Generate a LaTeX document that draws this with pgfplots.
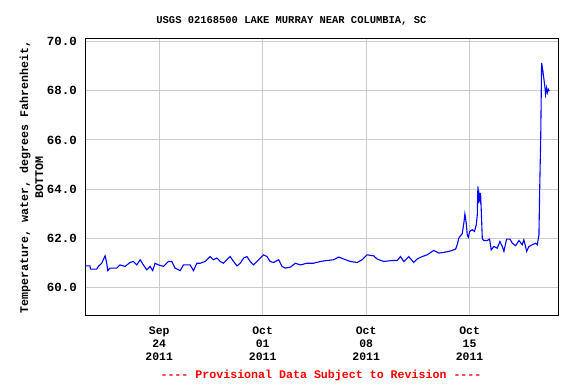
\documentclass[border=0pt]{standalone}
\usepackage{pgfplots}
\pgfplotsset{compat=1.18}
\usepackage{fontspec}
\setmonofont{Liberation Mono}
\definecolor{gridc}{HTML}{CCCCCC}
\definecolor{lineblue}{HTML}{0000FF}
\definecolor{provred}{HTML}{FF0000}
\begin{document}
\begin{tikzpicture}[x=1bp,y=1bp]
\useasboundingbox (0,0) rectangle (576,384);
\begin{axis}[
  at={(85.3bp,68.3bp)}, anchor=south west,
  scale only axis, width=473bp, height=277bp,
  xmin=0, xmax=32, ymin=58.87, ymax=70.11,
  xtick={5,12,19,26},
  xticklabels={{Sep\\24\\2011},{Oct\\01\\2011},{Oct\\08\\2011},{Oct\\15\\2011}},
  ytick={60,62,64,66,68,70},
  /pgf/number format/assume math mode=true,
  xticklabel style={align=center, yshift=-8bp, font=\ttfamily\bfseries\fontsize{11.5}{13}\selectfont},
  yticklabel style={xshift=-5bp, font=\ttfamily\bfseries\fontsize{12.5}{13}\selectfont, /pgf/number format/.cd, fixed, fixed zerofill, precision=1},
  major tick length=0pt,
  grid=major,
  grid style={gridc, line width=1bp},
  axis line style={line width=1.3bp},
  every axis title shift=0pt,
  title={USGS 02168500 LAKE MURRAY NEAR COLUMBIA, SC},
  title style={at={(axis description cs:0.4357,1.063)}, anchor=center, font=\ttfamily\bfseries\fontsize{10.5}{12}\selectfont},
  ylabel={Temperature, water, degrees Fahrenheit,\\BOTTOM},
  ylabel style={at={(axis description cs:-0.1137,0.5)}, anchor=center, align=center, font=\ttfamily\bfseries\fontsize{11.7}{15}\selectfont},
]
\addplot[lineblue, line width=1.1bp] coordinates {
(0.00,60.89) (0.32,60.89) (0.35,60.76) (0.77,60.76) (0.88,60.87) (1.11,61.00) (1.34,61.30) (1.45,61.00) (1.52,60.70) (1.67,60.80)
(2.13,60.80) (2.35,60.93) (2.69,60.87) (3.03,61.03) (3.25,61.07) (3.48,60.93) (3.71,61.14) (3.93,60.93) (4.16,60.73) (4.38,60.87)
(4.56,60.70) (4.72,61.00) (4.95,60.93) (5.29,60.87) (5.62,61.07) (5.85,61.07) (6.08,60.80) (6.42,60.70) (6.64,60.93) (7.09,60.93)
(7.32,60.70) (7.55,61.00) (7.77,61.00) (8.11,61.07) (8.45,61.27) (8.67,61.14) (8.90,61.21) (9.13,61.07) (9.35,61.00) (9.58,61.14)
(9.80,61.27) (10.03,61.07) (10.26,60.89) (10.48,61.00) (10.71,61.21) (10.93,61.27) (11.16,61.07) (11.38,60.93) (11.61,61.07) (11.84,61.21)
(12.06,61.34) (12.29,61.27) (12.51,61.07) (12.74,61.03) (13.08,61.14) (13.31,60.87) (13.53,60.80) (13.87,60.84) (14.21,61.00) (14.55,60.93)
(15.00,61.00) (15.45,61.00) (15.90,61.07) (16.35,61.11) (16.80,61.14) (17.14,61.25) (17.48,61.17) (17.93,61.07) (18.39,61.03) (18.73,61.14)
(19.06,61.34) (19.51,61.30) (19.74,61.17) (20.19,61.07) (20.76,61.11) (21.10,61.11) (21.32,61.27) (21.55,61.07) (21.88,61.27) (22.22,61.03)
(22.45,61.17) (22.79,61.27) (23.13,61.34) (23.58,61.52) (23.92,61.41) (24.26,61.44) (24.60,61.48) (25.05,61.57) (25.16,61.75) (25.27,62.02)
(25.50,62.20) (25.61,62.63) (25.68,63.00) (25.77,62.63) (25.84,62.15) (25.91,62.05) (26.00,62.29) (26.18,62.36) (26.33,62.29) (26.45,62.56)
(26.52,62.97) (26.56,64.12) (26.61,63.44) (26.65,63.78) (26.70,63.60) (26.74,63.85) (26.79,63.10) (26.86,61.98) (26.97,61.92) (27.19,61.92)
(27.35,61.98) (27.46,61.54) (27.64,61.68) (27.87,61.61) (28.05,61.88) (28.21,61.68) (28.32,61.48) (28.50,61.98) (28.73,61.98) (28.89,61.81)
(29.11,61.71) (29.34,61.92) (29.56,61.75) (29.67,61.95) (29.86,61.48) (30.01,61.68) (30.24,61.75) (30.47,61.81) (30.58,61.75) (30.69,62.15)
(30.74,63.98) (30.81,66.08) (30.87,69.13) (30.96,68.79) (31.03,68.45) (31.10,68.12) (31.14,67.85) (31.21,68.12) (31.26,67.92) (31.33,68.05)
(31.39,67.98)
};
\end{axis}
\node[text=provred, font=\ttfamily\bfseries\fontsize{11.67}{13}\selectfont] at (321,9) {---- Provisional Data Subject to Revision ----};
\end{tikzpicture}
\end{document}
